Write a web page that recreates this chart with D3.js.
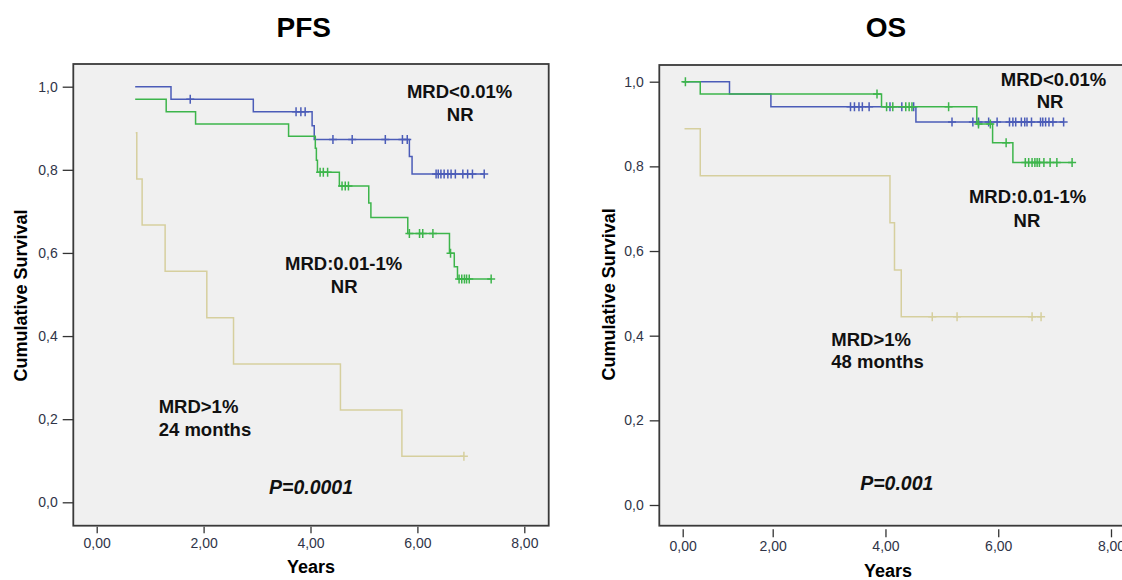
<!DOCTYPE html>
<html>
<head>
<meta charset="utf-8">
<script src="https://cdn.jsdelivr.net/npm/d3@7"></script>
<style>
  body { margin: 0; background: #fff; }
  svg { display: block; }
</style>
</head>
<body>
<script>
'use strict';

const WIDTH = 1122;
const HEIGHT = 580;

const FONT = "'Liberation Sans', Arial, Helvetica, sans-serif";

const SURVIVAL_TICKS = [0, 0.2, 0.4, 0.6, 0.8, 1.0];
const YEAR_TICKS = [0, 2, 4, 6, 8];

// Kaplan-Meier steps: [years, survival after the event].
// PFS
const PFS_LOW_STEPS = [[0.72, 1.000], [1.39, 0.970], [2.93, 0.940], [4.03, 0.906], [4.07, 0.873],
    [5.85, 0.832], [5.90, 0.790]];
const PFS_LOW_CENSORED = [1.75, 3.73, 3.82, 3.90, 4.42, 4.78, 5.40, 5.72, 5.81, 6.35, 6.39, 6.44,
    6.50, 6.57, 6.63, 6.71, 6.85, 6.94, 7.03, 7.25];

const PFS_MID_STEPS = [[0.72, 0.970], [1.30, 0.940], [1.85, 0.910], [3.59, 0.881], [4.09, 0.852],
    [4.11, 0.823], [4.13, 0.794], [4.54, 0.761], [5.09, 0.720], [5.13, 0.685], [5.82, 0.647],
    [6.60, 0.599], [6.69, 0.567], [6.75, 0.537]];
const PFS_MID_CENSORED = [4.18, 4.24, 4.32, 4.59, 4.65, 4.71, 5.85, 6.04, 6.10, 6.29, 6.62, 6.78,
    6.83, 6.88, 6.92, 6.97, 7.38];

const PFS_HIGH_STEPS = [[0.73, 0.889], [0.75, 0.778], [0.85, 0.667], [1.28, 0.556], [2.06, 0.444],
    [2.56, 0.333], [4.56, 0.222], [5.71, 0.111]];
const PFS_HIGH_CENSORED = [6.87];

// OS
const OS_LOW_STEPS = [[0, 1.000], [1.04, 0.971], [1.96, 0.941], [4.54, 0.905]];
const OS_LOW_CENSORED = [3.38, 3.45, 3.53, 3.59, 3.71, 4.08, 4.29, 4.50, 5.18, 5.55, 5.65, 5.83,
    5.98, 6.20, 6.26, 6.31, 6.41, 6.47, 6.51, 6.59, 6.75, 6.79, 6.84, 6.90, 6.97, 7.16];

const OS_MID_STEPS = [[0, 1.000], [0.39, 0.971], [3.93, 0.941], [5.62, 0.900], [5.90, 0.856],
    [6.26, 0.809]];
const OS_MID_CENSORED = [0.06, 3.85, 4.02, 4.13, 4.36, 4.42, 4.47, 5.12, 5.65, 5.86, 6.14, 6.48,
    6.54, 6.60, 6.65, 6.69, 6.73, 6.81, 6.92, 7.04, 7.31];

const OS_HIGH_STEPS = [[0.04, 0.889], [0.39, 0.778], [4.08, 0.667], [4.16, 0.555], [4.28, 0.445]];
const OS_HIGH_CENSORED = [4.83, 5.27, 6.60, 6.76];

// Annotation texts: [text, years, survival, anchor, style]
const PFS_NOTES = [
    ['MRD<0.01%', 6.79, 0.988, 'middle', 'bold'],
    ['NR', 6.80, 0.934, 'middle', 'bold'],
    ['MRD:0.01-1%', 4.62, 0.575, 'middle', 'bold'],
    ['NR', 4.63, 0.520, 'middle', 'bold'],
    ['MRD>1%', 1.16, 0.230, 'start', 'bold'],
    ['24 months', 1.16, 0.176, 'start', 'bold'],
    ['P=0.0001', 4.01, 0.036, 'middle', 'italic'],
];
const OS_NOTES = [
    ['MRD<0.01%', 6.98, 1.006, 'middle', 'bold'],
    ['NR', 6.92, 0.953, 'middle', 'bold'],
    ['MRD:0.01-1%', 6.52, 0.728, 'middle', 'bold'],
    ['NR', 6.51, 0.673, 'middle', 'bold'],
    ['MRD>1%', 3.04, 0.391, 'start', 'bold'],
    ['48 months', 3.04, 0.339, 'start', 'bold'],
    ['P=0.001', 4.20, 0.051, 'middle', 'italic'],
];

const COLOR_LOW = '#4b5cb8';
const COLOR_MID = '#3db54b';
const COLOR_HIGH = '#d6cf9e';
const PLOT_BG = '#f0f0f0';
const FRAME_COLOR = '#3a3a3a';
const TICK_TEXT_COLOR = '#2f3447';

const PANELS = [
    {
        title: 'PFS', titleX: 303.7,
        frame: {x0: 73.3, y0: 64, x1: 548.7, y1: 525.7},
        xDomain: [0, 8], xRange: [96.7, 524.3],
        yRange: [502.3, 86.7],
        xAxisY: 526.7, xTickSize: 6.6, xTickPad: 4.5,
        yTickSize: 10.6, yTickPad: 5,
        yLabelX: 27.1, xLabelX: 311, xLabelY: 573,
        series: [
            {steps: PFS_HIGH_STEPS, censored: PFS_HIGH_CENSORED, color: COLOR_HIGH},
            {steps: PFS_LOW_STEPS, censored: PFS_LOW_CENSORED, color: COLOR_LOW},
            {steps: PFS_MID_STEPS, censored: PFS_MID_CENSORED, color: COLOR_MID},
        ],
        notes: PFS_NOTES,
    },
    {
        title: 'OS', titleX: 886,
        frame: {x0: 659.3, y0: 65, x1: 1124, y1: 525.7},
        // The time axis of this panel is compressed between 0 and 2 years.
        xDomain: [0, 2, 8], xRange: [682.7, 772.7, 1111],
        yRange: [505, 81.7],
        xAxisY: 529.3, xTickSize: 8, xTickPad: 4.2,
        yTickSize: 9.6, yTickPad: 6,
        yLabelX: 615, xLabelX: 888, xLabelY: 577,
        series: [
            {steps: OS_HIGH_STEPS, censored: OS_HIGH_CENSORED, color: COLOR_HIGH},
            {steps: OS_LOW_STEPS, censored: OS_LOW_CENSORED, color: COLOR_LOW},
            {steps: OS_MID_STEPS, censored: OS_MID_CENSORED, color: COLOR_MID},
        ],
        notes: OS_NOTES,
    },
];

function survivalAt(steps, t) {
    let s = steps[0][1];
    steps.forEach(function(step) {
        if (step[0] <= t) {
            s = step[1];
        }
    });
    return s;
}

function commaFormat(digits) {
    return function(d) {
        return d.toFixed(digits).replace('.', ',');
    };
}

function drawPanel(svg, panel) {
    const g = svg.append('g');
    const f = panel.frame;

    const x = d3.scaleLinear().domain(panel.xDomain).range(panel.xRange);
    const y = d3.scaleLinear().domain([0, 1]).range(panel.yRange);

    // Plot area and frame.
    g.append('rect')
            .attr('x', f.x0)
            .attr('y', f.y0)
            .attr('width', f.x1 - f.x0)
            .attr('height', f.y1 - f.y0)
            .attr('fill', PLOT_BG)
            .attr('stroke', FRAME_COLOR)
            .attr('stroke-width', 1.8);

    // Axes.
    const yAxis = d3.axisLeft(y)
            .tickValues(SURVIVAL_TICKS)
            .tickFormat(commaFormat(1))
            .tickSize(panel.yTickSize)
            .tickSizeOuter(0)
            .tickPadding(panel.yTickPad);

    const xAxis = d3.axisBottom(x)
            .tickValues(YEAR_TICKS)
            .tickFormat(commaFormat(2))
            .tickSize(panel.xTickSize)
            .tickSizeOuter(0)
            .tickPadding(panel.xTickPad);

    [
        g.append('g').attr('transform', `translate(${f.x0},0)`).call(yAxis),
        g.append('g').attr('transform', `translate(0,${panel.xAxisY})`).call(xAxis),
    ].forEach(function(axis) {
        axis.select('.domain').remove();
        axis.selectAll('line').attr('stroke', '#333').attr('stroke-width', 1.3);
        axis.selectAll('text')
                .attr('fill', TICK_TEXT_COLOR)
                .style('font-family', FONT)
                .style('font-size', '14px');
    });

    // Survival curves.
    const line = d3.line()
            .x(d => x(d[0]))
            .y(d => y(d[1]))
            .curve(d3.curveStepAfter);

    const plot = g.append('g');

    panel.series.forEach(function(serie) {
        let points = serie.steps.slice();
        let last = points[points.length - 1];
        let lastCensor = d3.max(serie.censored);
        if (lastCensor > last[0]) {
            points.push([lastCensor, last[1]]);
        }

        plot.append('path')
                .attr('d', line(points))
                .attr('fill', 'none')
                .attr('stroke', serie.color)
                .attr('stroke-width', 1.5);

        // Censored cases as "+" marks.
        plot.selectAll(null)
                .data(serie.censored)
                .enter()
                .append('path')
                .attr('d', function(t) {
                    let cx = x(t);
                    let cy = y(survivalAt(serie.steps, t));
                    return `M${cx - 4},${cy}H${cx + 4}M${cx},${cy - 4.5}V${cy + 4.5}`;
                })
                .attr('stroke', serie.color)
                .attr('stroke-width', 1.5)
                .attr('fill', 'none');
    });

    // Annotations.
    g.selectAll('.note')
            .data(panel.notes)
            .enter()
            .append('text')
            .attr('class', 'note')
            .attr('x', d => x(d[1]))
            .attr('y', d => y(d[2]))
            .attr('dy', '0.36em')
            .attr('text-anchor', d => d[3])
            .style('font-family', FONT)
            .style('font-weight', 'bold')
            .style('font-style', d => d[4] === 'italic' ? 'italic' : 'normal')
            .style('font-size', d => d[4] === 'italic' ? '19.5px' : '18.5px')
            .attr('fill', '#111')
            .text(d => d[0]);

    // Titles.
    g.append('text')
            .attr('x', panel.titleX)
            .attr('y', 36.7)
            .attr('text-anchor', 'middle')
            .style('font-family', FONT)
            .style('font-weight', 'bold')
            .style('font-size', '28px')
            .attr('fill', '#000')
            .text(panel.title);

    g.append('text')
            .attr('transform', `translate(${panel.yLabelX},${(y(0) + y(1)) / 2 + 1})rotate(-90)`)
            .attr('text-anchor', 'middle')
            .style('font-family', FONT)
            .style('font-weight', 'bold')
            .style('font-size', '18px')
            .attr('fill', '#000')
            .text('Cumulative Survival');

    g.append('text')
            .attr('x', panel.xLabelX)
            .attr('y', panel.xLabelY)
            .attr('text-anchor', 'middle')
            .style('font-family', FONT)
            .style('font-weight', 'bold')
            .style('font-size', '18px')
            .attr('fill', '#000')
            .text('Years');
}

function main() {
    let svg = d3.select('body')
            .append('svg')
            .attr('width', WIDTH)
            .attr('height', HEIGHT);

    svg.append('rect')
            .attr('width', WIDTH)
            .attr('height', HEIGHT)
            .attr('fill', '#fff');

    PANELS.forEach(function(panel) {
        drawPanel(svg, panel);
    });
}

document.addEventListener('DOMContentLoaded', function(event) {
    main();
});
</script>
</body>
</html>
